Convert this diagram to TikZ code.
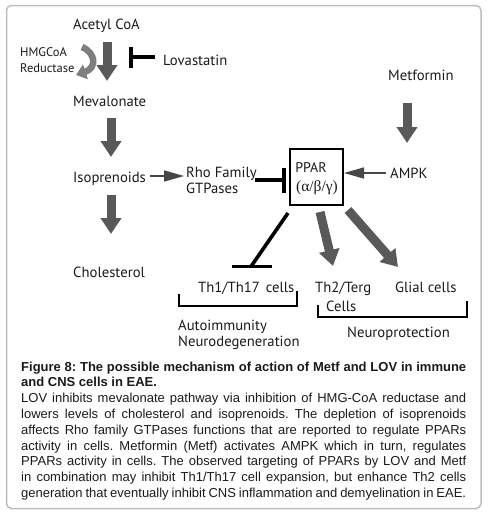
\documentclass[tikz,border=0pt]{standalone}
\usepackage{fontspec}
\setmainfont{Liberation Sans}
\newfontfamily\diag{PT Sans}
\newfontfamily\greekf{Liberation Serif}
\usetikzlibrary{arrows.meta}
\definecolor{arrgrey}{HTML}{595959}
\definecolor{lightarr}{HTML}{7F7F7F}
\definecolor{framegrey}{HTML}{BDBDBD}
\definecolor{txt}{HTML}{1A1A1A}
\tikzset{
  lbl/.style={font=\diag\fontsize{14.7}{16}\selectfont, text=txt, inner sep=0pt, anchor=base west},
  smalllbl/.style={font=\diag\fontsize{12.5}{14}\selectfont, text=txt, inner sep=0pt, anchor=base west},
  bigarrow/.style={draw=arrgrey, line width=9pt, -{Triangle[width=20pt,length=16pt]}},
  thinarrow/.style={draw=arrgrey!80!black, line width=1.6pt, -{Triangle[width=11pt,length=20pt]}},
  inhib/.style={draw=black, line width=3.2pt},
  bracket/.style={draw=black, line width=2pt},
}
\begin{document}
\begin{tikzpicture}[x=1pt,y=-1pt]
\useasboundingbox (0,0) rectangle (496,522);
\draw[framegrey, line width=1.5pt, rounded corners=5pt] (6.5,5.5) rectangle (481,508.5);

% labels
\node[lbl] (acetyl) at (73,29.5) {Acetyl CoA};
\node[smalllbl] (hmg) at (20,56) {HMGCoA};
\node[smalllbl] (red) at (20,72) {Reductase};
\node[lbl] (lova) at (163,65) {Lovastatin};
\node[lbl] (meval) at (73,106) {Mevalonate};
\node[lbl] (isop) at (73,182) {Isoprenoids};
\node[lbl] (rho) at (186,177) {Rho Family};
\node[lbl] (gtp) at (186,193) {GTPases};
\node[lbl] (chol) at (73,277) {Cholesterol};
\node[lbl] (metf) at (388,80) {Metformin};
\node[lbl] (ampk) at (390,178) {AMPK};
\node[draw=black, line width=2pt, minimum width=53pt, minimum height=56pt, inner sep=0pt] (ppar) at (316.5,177) {};
\node[lbl, anchor=base, font=\diag\fontsize{14}{15}\selectfont] (ppart) at (311,172) {PPAR};
\node[lbl, anchor=base, font=\greekf\fontsize{15.5}{16}\selectfont] (pparg) at (317,191) {(α/β/γ)};
\node[lbl] (th1) at (198,292) {Th1/Th17\hspace{6pt}cells};
\node[lbl] (th2) at (315,292) {Th2/Terg};
\node[lbl] (cells) at (326,311) {Cells};
\node[lbl] (glial) at (395,292) {Glial cells};
\node[lbl] (auto) at (178,330) {Autoimmunity};
\node[lbl] (neuro) at (178,346) {Neurodegeneration};
\node[lbl] (nprot) at (347,337) {Neuroprotection};

% coordinates for connectors
\coordinate (a1s) at (107,42);  \coordinate (a1e) at (107,81);
\coordinate (a2s) at (111,118); \coordinate (a2e) at (111,157);
\coordinate (a3s) at (111,195); \coordinate (a3e) at (111,234);
\coordinate (a4s) at (407,103); \coordinate (a4e) at (407,143);
\coordinate (a5s) at (320,212); \coordinate (a5e) at (333,266);
\coordinate (a6s) at (348,210); \coordinate (a6e) at (398,267);

\draw[bigarrow] (a1s) -- (a1e);
\draw[bigarrow] (a2s) -- (a2e);
\draw[bigarrow] (a3s) -- (a3e);
\draw[bigarrow] (a4s) -- (a4e);
\draw[bigarrow] (a5s) -- (a5e);
\draw[bigarrow] (a6s) -- (a6e);

% HMGCoA reductase curved arrow
\coordinate (c1s) at (82,47); \coordinate (c1e) at (76,75);
\draw[lightarr, line width=6.5pt, -{Triangle[width=15pt,length=10pt]}] (c1s) .. controls (96,53) and (97,68) .. (c1e);

% thin arrows
\coordinate (t1s) at (150,176); \coordinate (t1e) at (184,176);
\draw[thinarrow] (t1s) -- (t1e);
\coordinate (t2s) at (386,173);
\draw[thinarrow] (t2s) -- (t2s -| ppar.east);

% inhibitions
\coordinate (lovas) at (155,57); \coordinate (lovabar) at (131,57);
\draw[inhib] (lovas) -- (lovabar);
\draw[inhib] (131,46.5) -- (131,67.5);
\coordinate (rhos) at (255,180); \coordinate (rhobar) at (284,180);
\draw[inhib] (rhos) -- (rhobar);
\draw[inhib] (284,168) -- (284,193);
\coordinate (th1s) at (288,213); \coordinate (th1bar) at (251,266.5);
\draw[inhib, line width=3.6pt] (th1s) -- (th1bar);
\draw[inhib, line width=3.6pt] (232,266.5) -- (272,266.5);

% brackets
\draw[bracket] (178.5,294) -- (178.5,306) -- (297,306) -- (297,291);
\draw[bracket] (318,305) -- (318,317) -- (467,317) -- (467,301);

% caption
\node[anchor=north west, inner sep=0pt, text width=445pt, align=justify, text=txt,
  font=\fontsize{13}{15.8}\selectfont] (cap) at (21,361.5) {\frenchspacing
\textbf{Figure 8: The possible mechanism of action of Metf and LOV in immune\linebreak and CNS cells in EAE.}\par
LOV inhibits mevalonate pathway via inhibition of HMG-CoA reductase and\linebreak lowers levels of cholesterol and isoprenoids. The depletion of isoprenoids\linebreak affects Rho family GTPases functions that are reported to regulate PPARs\linebreak activity in cells. Metformin (Metf) activates AMPK which in turn, regulates\linebreak PPARs activity in cells. The observed targeting of PPARs by LOV and Metf\linebreak in combination may inhibit Th1/Th17 cell expansion, but enhance Th2 cells\linebreak generation that eventually inhibit CNS inflammation and demyelination in EAE.\parfillskip=0pt\par};
\end{tikzpicture}
\end{document}
